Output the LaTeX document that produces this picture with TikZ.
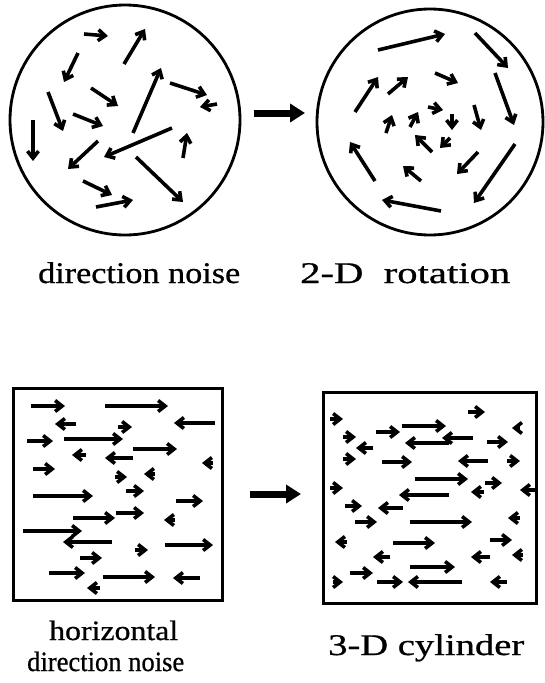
\documentclass[tikz,border=0pt]{standalone}
\usepackage{fontspec}
\setmainfont{Liberation Serif}
\newfontfamily\lblfont{Liberation Serif}[FakeBold=0.7]
\usetikzlibrary{arrows.meta}
\newcommand\fitw[2]{\resizebox{#1pt}{\height}{#2}}
\begin{document}
\begin{tikzpicture}[x=1pt,y=-1pt,
 vec/.style={line width=3.6pt,-{Straight Barb[length=7pt,width=11pt]}},
 ring/.style={line width=2.8pt},
 box/.style={line width=3pt},
 bigarrow/.style={line width=7pt,-{Triangle[length=15pt,width=18pt]}},
 lbl/.style={anchor=base west,inner sep=0pt,font=\lblfont\fontsize{30}{30}\selectfont},
 lblsm/.style={lbl,font=\lblfont\fontsize{28}{28}\selectfont}]
\useasboundingbox (0,0) rectangle (545,683);
% panels
\draw[ring] (125,120) circle[radius=115];
\draw[ring] (430,122) circle[radius=113];
\draw[box] (13,388) rectangle (222,600);
\draw[box] (323,392) rectangle (536,603);
% connecting arrows
\draw[bigarrow] (254,113) -- (305,113);
\draw[bigarrow] (250,494) -- (301,494);
% direction noise
\foreach \a/\b/\c/\d in {84/34/108/36, 124/64/145/29, 78/53/64/82, 48/92/63/131,
  91/88/118/106, 73/114/103/126, 33/120/33/161, 133/133/161/68, 170/83/207/95,
  217/104/200/107, 172/128/104/157, 98/141/68/169, 183/158/187/133,
  136/157/183/202, 83/181/112/195, 96/207/133/200}
  \draw[vec] (\a,\b) -- (\c,\d);
% 2-D rotation
\foreach \a/\b/\c/\d in {378/50/445/34, 475/33/508/68, 495/73/514/125,
  515/144/474/203, 441/211/382/200, 375/181/350/142, 355/112/378/77,
  388/94/408/77, 435/73/458/83, 474/105/481/130, 478/152/457/174,
  421/181/403/166, 432/152/415/135, 452/114/452/130, 450/138/440/148,
  428/107/443/110, 410/127/418/112, 386/133/392/115}
  \draw[vec] (\a,\b) -- (\c,\d);
% horizontal direction noise
\foreach \a/\b/\c/\d in {31/406/65/406, 105/406/168/406, 76/424/55/424,
  118/427/132/427, 215/423/174/423, 27/441/53/441, 64/439/123/439,
  86/455/72/455, 133/449/177/449, 133/458/105/458, 213/463/202/463,
  33/469/55/469, 115/477/127/477, 155/474/144/474, 126/491/144/491,
  33/496/93/496, 176/501/203/501, 73/518/115/518, 116/513/144/513,
  175/520/164/520, 23/531/82/531, 112/542/63/542, 165/545/213/545,
  135/550/148/550, 80/558/102/558, 49/573/85/573, 103/577/155/577,
  200/578/173/578, 100/588/87/588}
  \draw[vec] (\a,\b) -- (\c,\d);
% 3-D cylinder
\foreach \a/\b/\c/\d in {330/419/343/419, 468/412/485/412, 520/428/512/428,
  376/432/400/432, 402/426/446/426, 343/437/356/437, 373/448/356/448,
  473/438/442/438, 449/443/405/443, 487/442/508/442, 343/459/356/459,
  382/462/412/462, 488/461/458/461, 507/461/520/461, 415/479/468/479,
  330/488/343/488, 485/483/502/483, 484/492/471/492, 535/490/520/490,
  449/495/399/495, 345/506/362/506, 403/508/378/508, 355/522/377/522,
  410/522/472/522, 520/518/508/518, 347/542/335/542, 393/543/435/543,
  490/540/512/540, 490/557/471/557, 523/555/512/555, 390/557/373/557,
  410/567/455/567, 350/573/373/573, 377/582/403/582, 462/582/408/582,
  333/582/343/582, 507/582/490/582}
  \draw[vec] (\a,\b) -- (\c,\d);
% labels
\node[lbl] (l1) at (38,283) {\fitw{202}{direction\ noise}};
\node[lbl] (l2) at (300,283) {\fitw{210}{2-D\ \ rotation}};
\node[lblsm] (l3) at (49,640) {\fitw{129}{horizontal}};
\node[lblsm] (l4) at (27,671) {\fitw{157}{direction noise}};
\node[lbl] (l5) at (328,655) {\fitw{196}{3-D\ cylinder}};
\end{tikzpicture}
\end{document}
